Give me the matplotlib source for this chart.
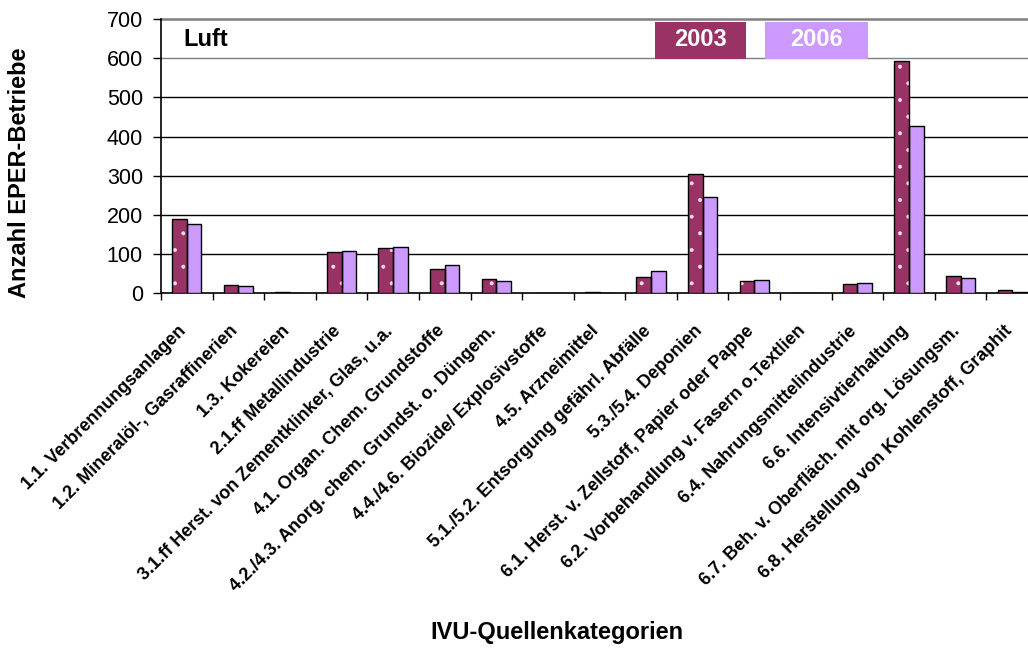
import matplotlib
matplotlib.use("Agg")
import matplotlib.pyplot as plt
import numpy as np
from matplotlib.patches import Rectangle
from matplotlib.transforms import ScaledTranslation

categories = [
    "1.1. Verbrennungsanlagen",
    "1.2. Mineralöl-, Gasraffinerien",
    "1.3. Kokereien",
    "2.1.ff Metallindustrie",
    "3.1.ff Herst. von Zementklinker, Glas, u.a.",
    "4.1. Organ. Chem. Grundstoffe",
    "4.2./4.3. Anorg. chem. Grundst. o. Düngem.",
    "4.4./4.6. Biozide/ Explosivstoffe",
    "4.5. Arzneimittel",
    "5.1./5.2. Entsorgung gefährl. Abfälle",
    "5.3./5.4. Deponien",
    "6.1. Herst. v. Zellstoff, Papier oder Pappe",
    "6.2. Vorbehandlung v. Fasern o.Textlien",
    "6.4. Nahrungsmittelindustrie",
    "6.6. Intensivtierhaltung",
    "6.7. Beh. v. Oberfläch. mit org. Lösungsm.",
    "6.8. Herstellung von Kohlenstoff, Graphit",
]
values_2003 = [190, 21, 3, 105, 116, 62, 36, 0, 3, 41, 305, 31, 0, 23, 594, 43, 8]
values_2006 = [178, 18, 2, 108, 119, 72, 32, 0, 2, 56, 246, 35, 0, 26, 427, 38, 4]
yticks = [0, 100, 200, 300, 400, 500, 600, 700]

C2003 = "#993366"
C2006 = "#CC99FF"
FONT = "Liberation Sans"

plt.rcParams["font.family"] = [FONT, "DejaVu Sans"]
plt.rcParams["hatch.linewidth"] = 0.4

W, H = 1028, 653
fig = plt.figure(figsize=(W / 100, H / 100), dpi=100)
ax = fig.add_axes([161 / W, 1 - 293.3 / H, 877 / W, 274.3 / H])

x = np.arange(len(categories))
bw = 0.285
# 2003 bars: fill with white dot pattern, then black outline
ax.bar(x - bw / 2, values_2003, bw, color=C2003, edgecolor="#f4dcec",
       linewidth=0, hatch=".", zorder=3)
ax.bar(x - bw / 2, values_2003, bw, fill=False, edgecolor="black",
       linewidth=1.0, zorder=4)
ax.bar(x + bw / 2, values_2006, bw, color=C2006, edgecolor="black",
       linewidth=1.0, zorder=3)

ax.set_xlim(-0.5, len(categories) - 0.5)
ax.set_ylim(0, 700)
ax.set_yticks(yticks)
ax.set_yticklabels([str(v) for v in yticks], fontsize=15.5)
ax.tick_params(axis="y", direction="out", length=6, width=1, pad=7)

ax.set_xticks(np.arange(len(categories) + 1) - 0.5, minor=False)
ax.set_xticklabels([])
ax.set_xticks(x, minor=True)
ax.set_xticklabels(categories, minor=True, rotation=45, ha="right",
                   va="top", rotation_mode="anchor", fontsize=13,
                   fontweight="bold")
ax.tick_params(axis="x", which="major", direction="out", length=5, width=1)
ax.tick_params(axis="x", which="minor", length=0, pad=21)
shift = ScaledTranslation(-9 / 100, 0, fig.dpi_scale_trans)
for lab in ax.get_xticklabels(minor=True):
    lab.set_transform(lab.get_transform() + shift)

for v in yticks[1:]:
    col = "#7f7f7f" if v >= 600 else "black"
    lw = 1.8 if v == 700 else 1.0
    ax.axhline(v, color=col, linewidth=lw, zorder=1, clip_on=False)

for s in ["top", "right"]:
    ax.spines[s].set_visible(False)
ax.spines["left"].set_linewidth(1.2)
ax.spines["bottom"].set_linewidth(1.2)

# Title text inside plot
fig.text(183 / W, 1 - 40 / H, "Luft", ha="left", va="center",
         fontsize=17, fontweight="bold")

# Legend boxes
fig.patches.append(Rectangle((655 / W, 1 - 59 / H), 91 / W, 37 / H,
                             transform=fig.transFigure, facecolor=C2003,
                             edgecolor="none", zorder=5))
fig.patches.append(Rectangle((765 / W, 1 - 59 / H), 103 / W, 37 / H,
                             transform=fig.transFigure, facecolor=C2006,
                             edgecolor="none", zorder=5))
fig.text(700.5 / W, 1 - 40 / H, "2003", ha="center", va="center",
         fontsize=17, fontweight="bold", color="white", zorder=6)
fig.text(816.5 / W, 1 - 40 / H, "2006", ha="center", va="center",
         fontsize=17, fontweight="bold", color="white", zorder=6)

fig.text(19.5 / W, 1 - 172.5 / H, "Anzahl EPER-Betriebe", rotation=90,
         ha="center", va="center", fontsize=17, fontweight="bold")
fig.text(556.5 / W, 1 - 632.5 / H, "IVU-Quellenkategorien", ha="center",
         va="center", fontsize=17, fontweight="bold")

fig.savefig("out.png", dpi=100)
